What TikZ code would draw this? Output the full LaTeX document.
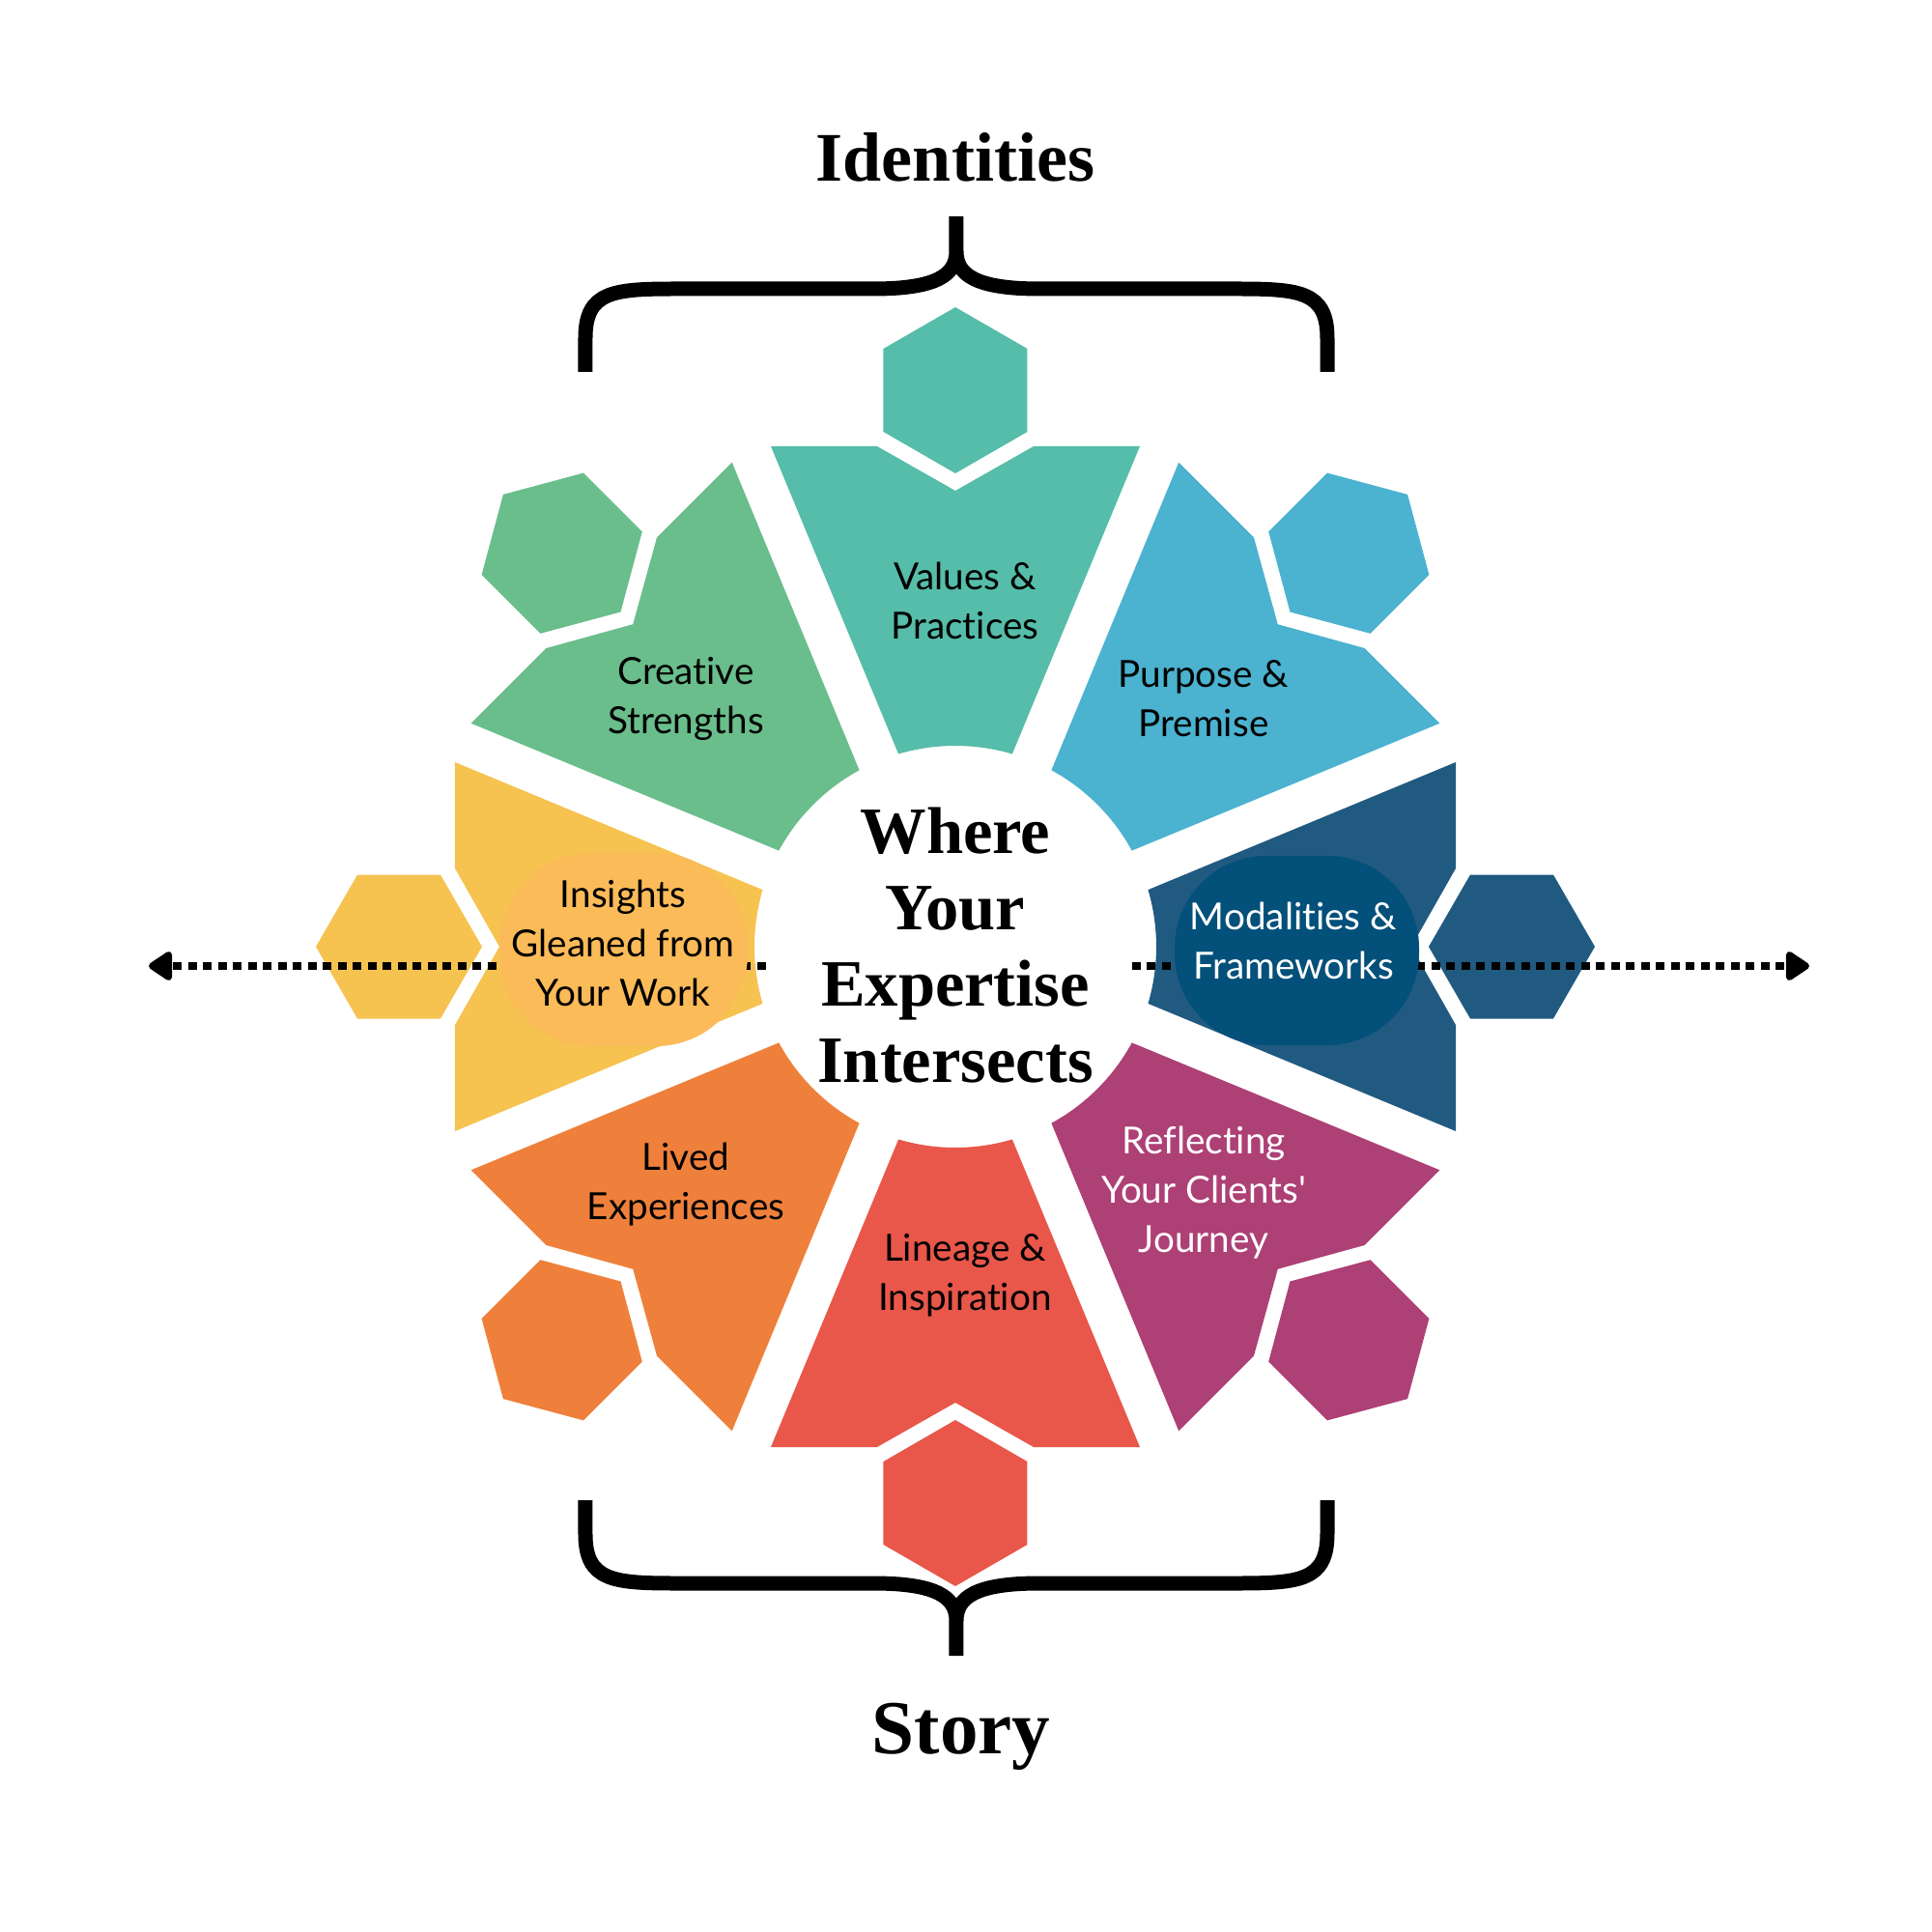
\documentclass[tikz,border=0pt]{standalone}
\usepackage{fontspec}
\setmainfont{Liberation Serif}
\setsansfont{Lato}[Ligatures={TeX,NoCommon}]
\usetikzlibrary{arrows.meta}

\definecolor{cvalues}{RGB}{85,189,169}
\definecolor{cpurpose}{RGB}{75,178,207}
\definecolor{cmodal}{RGB}{33,90,128}
\definecolor{cmodalblob}{RGB}{3,80,122}
\definecolor{creflect}{RGB}{173,64,117}
\definecolor{clineage}{RGB}{232,87,74}
\definecolor{clived}{RGB}{239,128,59}
\definecolor{cinsight}{RGB}{246,195,81}
\definecolor{cinsightblob}{RGB}{251,187,88}
\definecolor{ccreative}{RGB}{106,190,140}

\tikzset{
  lbl/.style={font=\sffamily\fontsize{11}{14.5}\selectfont, align=center, text=black},
  lblw/.style={lbl, text=white},
  heading/.style={font=\bfseries\fontsize{20.5}{24}\selectfont, anchor=base},
  hubtext/.style={font=\bfseries\fontsize{19.5}{22.5}\selectfont, align=center},
  dotline/.style={line width=0.085cm, dash pattern=on 0.09cm off 0.065cm,
    -{Triangle[length=0.27cm,width=0.34cm,round]}},
  bracket/.style={line width=0.15cm}
}

\begin{document}
\begin{tikzpicture}
\useasboundingbox (-9.89,-10.20) rectangle (10.11,9.80);

% petals and their hexagons
\foreach \ang/\col in {90/cvalues, 45/cpurpose, 0/cmodal, -45/creflect,
                       -90/clineage, -135/clived, 180/cinsight, 135/ccreative}{
  \begin{scope}[rotate=\ang]
    \fill[\col] (16.45:2.08) -- (5.18,1.91) -- (5.18,0.81) -- (4.72,0)
      -- (5.18,-0.81) -- (5.18,-1.91) -- (-16.45:2.08)
      arc[start angle=-16.45, end angle=16.45, radius=2.08] -- cycle;
    \fill[\col] (6.62,0) -- (6.19,0.745) -- (5.33,0.745) -- (4.90,0)
      -- (5.33,-0.745) -- (6.19,-0.745) -- cycle;
  \end{scope}
}

% dotted axis
\coordinate (weststart) at (-1.96,-0.2);
\coordinate (westtip) at (-8.35,-0.2);
\coordinate (eaststart) at (1.83,-0.2);
\coordinate (easttip) at (8.84,-0.2);
\draw[dotline] (weststart) -- (westtip);
\draw[dotline] (eaststart) -- (easttip);

\fill[cinsightblob, rounded corners=0.95cm] (-4.72,-1.03) rectangle (-2.15,0.97);
\fill[cmodalblob, rounded corners=0.95cm] (2.27,-1.02) rectangle (4.80,0.94);

% braces
\draw[bracket] (-3.83,5.95) -- (-3.83,6.3) .. controls (-3.83,6.78) and (-3.55,6.81) .. (-2.9,6.81)
  -- (-0.85,6.81) .. controls (-0.2,6.81) and (0.01,6.95) .. (0.01,7.2) -- (0.01,7.56)
  (3.85,5.95) -- (3.85,6.3) .. controls (3.85,6.78) and (3.57,6.81) .. (2.92,6.81)
  -- (0.87,6.81) .. controls (0.22,6.81) and (0.01,6.95) .. (0.01,7.2);
\draw[bracket] (-3.83,-5.73) -- (-3.83,-6.08) .. controls (-3.83,-6.56) and (-3.55,-6.59) .. (-2.9,-6.59)
  -- (-0.85,-6.59) .. controls (-0.2,-6.59) and (0.01,-6.73) .. (0.01,-6.98) -- (0.01,-7.34)
  (3.85,-5.73) -- (3.85,-6.08) .. controls (3.85,-6.56) and (3.57,-6.59) .. (2.92,-6.59)
  -- (0.87,-6.59) .. controls (0.22,-6.59) and (0.01,-6.73) .. (0.01,-6.98);

\node[heading] (identities) at (0,7.92) {Identities};
\node[heading, font=\bfseries\fontsize{22.5}{26}\selectfont] (story) at (0.06,-8.35) {Story};
\node[hubtext] (hub) at (0,0.015) {Where\\Your\\Expertise\\Intersects};

\node[lbl] (values) at (0.1,3.585) {Values \&\\Practices};
\node[lbl] (purpose) at (2.57,2.57) {Purpose \&\\Premise};
\node[lblw] (modal) at (3.50,0.06) {Modalities \&\\Frameworks};
\node[lblw] (reflect) at (2.57,-2.55) {Reflecting\\Your Clients\textquotesingle\\Journey};
\node[lbl] (lineage) at (0.1,-3.40) {Lineage \&\\Inspiration};
\node[lbl] (lived) at (-2.79,-2.46) {Lived\\Experiences};
\node[lbl] (insight) at (-3.44,0.04) {Insights\\Gleaned from\\Your Work};
\node[lbl] (creative) at (-2.79,2.57) {Creative\\Strengths};
\end{tikzpicture}
\end{document}
